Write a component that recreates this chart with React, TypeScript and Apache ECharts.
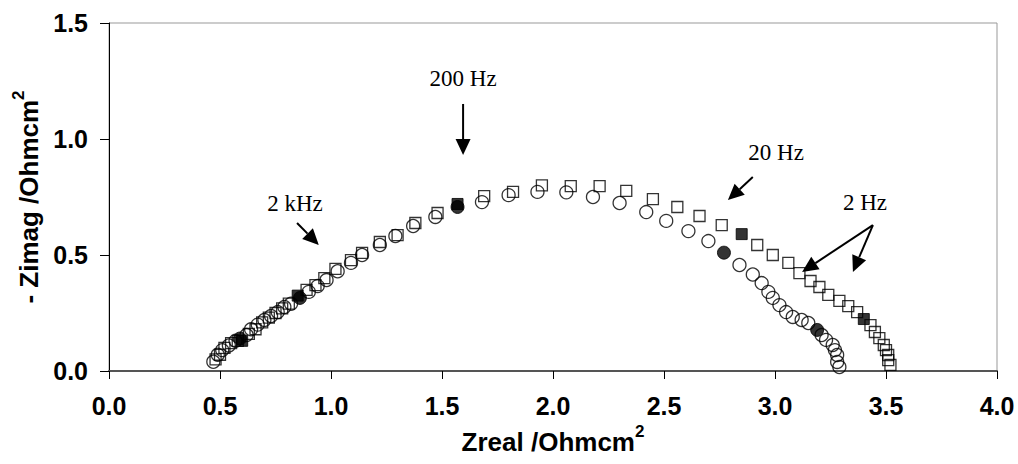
import React, { useEffect, useRef } from "react";
import * as echarts from "echarts";

// Open circles (first data set)
const circleOpen: number[][] = [
  [0.47, 0.04], [0.49, 0.07], [0.51, 0.09], [0.54, 0.11], [0.57, 0.13], [0.62, 0.155],
  [0.64, 0.18], [0.67, 0.2], [0.7, 0.22], [0.73, 0.237], [0.76, 0.254], [0.79, 0.276],
  [0.82, 0.29], [0.9, 0.341], [0.94, 0.366], [0.98, 0.392], [1.03, 0.43], [1.09, 0.466],
  [1.14, 0.5], [1.22, 0.543], [1.29, 0.582], [1.37, 0.625], [1.47, 0.664], [1.68, 0.728],
  [1.8, 0.758], [1.93, 0.772], [2.06, 0.77], [2.18, 0.75], [2.3, 0.724], [2.42, 0.685],
  [2.51, 0.647], [2.61, 0.603], [2.7, 0.56], [2.84, 0.457], [2.9, 0.416], [2.94, 0.379],
  [2.97, 0.341], [2.99, 0.315], [3.02, 0.284], [3.05, 0.254], [3.08, 0.233], [3.12, 0.22],
  [3.15, 0.207], [3.21, 0.155], [3.23, 0.134], [3.26, 0.112], [3.27, 0.09], [3.28, 0.069],
  [3.28, 0.039], [3.29, 0.017],
];
// Filled circles (20 kHz, 2 kHz, 200 Hz, 20 Hz, 2 Hz)
const circleFilled: number[][] = [
  [0.59, 0.14], [0.86, 0.315], [1.57, 0.707], [2.77, 0.51], [3.19, 0.177],
];
// Open squares (second data set)
const squareOpen: number[][] = [
  [0.48, 0.05], [0.5, 0.07], [0.52, 0.1], [0.55, 0.12], [0.58, 0.13], [0.63, 0.16],
  [0.66, 0.18], [0.69, 0.21], [0.72, 0.23], [0.75, 0.25], [0.78, 0.27], [0.81, 0.29],
  [0.89, 0.35], [0.93, 0.37], [0.97, 0.4], [1.02, 0.44], [1.09, 0.478], [1.14, 0.509],
  [1.22, 0.556], [1.3, 0.586], [1.38, 0.638], [1.48, 0.681], [1.69, 0.754], [1.82, 0.772],
  [1.95, 0.8], [2.08, 0.797], [2.21, 0.797], [2.33, 0.776], [2.45, 0.741], [2.56, 0.707],
  [2.66, 0.668], [2.76, 0.629], [2.92, 0.543], [2.99, 0.5], [3.06, 0.466], [3.11, 0.422],
  [3.16, 0.388], [3.2, 0.362], [3.24, 0.328], [3.29, 0.302], [3.33, 0.28], [3.37, 0.254],
  [3.43, 0.198], [3.45, 0.168], [3.47, 0.142], [3.49, 0.112], [3.5, 0.09], [3.51, 0.069],
  [3.51, 0.047], [3.52, 0.026],
];
const squareFilled: number[][] = [
  [0.6, 0.13], [0.85, 0.325], [1.57, 0.72], [2.85, 0.59], [3.4, 0.224],
];

// Annotations in data coordinates: label position, arrows [from, to]
const annotations = [
  { text: "2 kHz", at: [0.838, 0.724], arrows: [[[0.847, 0.638], [0.945, 0.543]]] },
  { text: "200 Hz", at: [1.595, 1.262], arrows: [[[1.595, 1.151], [1.595, 0.931]]] },
  { text: "20 Hz", at: [3.005, 0.94], arrows: [[[2.9, 0.836], [2.788, 0.737]]] },
  {
    text: "2 Hz",
    at: [3.405, 0.728],
    arrows: [
      [[3.441, 0.629], [3.122, 0.427]],
      [[3.441, 0.629], [3.351, 0.427]],
    ],
  },
];

const xTicks = { min: 0, max: 4, interval: 0.5 };
const yTicks = { min: 0, max: 1.5, interval: 0.5 };

export default function App() {
  const ref = useRef<HTMLDivElement>(null);
  useEffect(() => {
    if (!ref.current) return;
    const chart = echarts.init(ref.current, undefined, { renderer: "svg" });
    const tickFont = {
      fontFamily: "Liberation Sans, Arial, sans-serif",
      fontWeight: "bold" as const,
      fontSize: 25,
      color: "#000",
    };
    const titleRich = {
      a: { fontFamily: "Liberation Sans, Arial", fontWeight: "bold", fontSize: 26, color: "#000", lineHeight: 32, verticalAlign: "bottom" },
      s: { fontFamily: "Liberation Sans, Arial", fontWeight: "bold", fontSize: 17, color: "#000", lineHeight: 32, verticalAlign: "top" },
    };
    const openStyle = { color: "rgba(0,0,0,0)", borderColor: "#000", borderWidth: 1.3 };
    const fillStyle = { color: "#000", borderColor: "#000", borderWidth: 1 };
    chart.setOption({
      animation: false,
      backgroundColor: "#fff",
      grid: {
        left: 109, right: 21, top: 23, bottom: 93,
        show: true, borderColor: "#999", borderWidth: 1, backgroundColor: "transparent",
      },
      xAxis: {
        type: "value",
        ...xTicks,
        splitLine: { show: false },
        axisLine: { show: true, lineStyle: { color: "#555", width: 2 } },
        axisTick: { show: true, length: 8, lineStyle: { color: "#000", width: 1 } },
        axisLabel: { ...tickFont, margin: 22, formatter: (v: number) => v.toFixed(1) },
        name: "{a|Zreal /Ohmcm}{s|2}",
        nameLocation: "middle",
        nameGap: 52,
        nameTextStyle: { rich: titleRich },
      },
      yAxis: {
        type: "value",
        ...yTicks,
        splitLine: { show: false },
        axisLine: { show: true, lineStyle: { color: "#000", width: 1 } },
        axisTick: { show: true, length: 9, lineStyle: { color: "#000", width: 1 } },
        axisLabel: { ...tickFont, margin: 21, formatter: (v: number) => v.toFixed(1) },
        name: "{a|- Zimag /Ohmcm}{s|2}",
        nameLocation: "middle",
        nameRotate: 90,
        nameGap: 60,
        nameTextStyle: { rich: titleRich },
      },
      series: [
        { type: "scatter", symbol: "circle", symbolSize: 13, data: circleOpen, itemStyle: openStyle, z: 3 },
        { type: "scatter", symbol: "rect", symbolSize: 11, data: squareOpen, itemStyle: openStyle, z: 3 },
        { type: "scatter", symbol: "circle", symbolSize: 13, data: circleFilled, itemStyle: fillStyle, z: 4 },
        { type: "scatter", symbol: "rect", symbolSize: 11, data: squareFilled, itemStyle: fillStyle, z: 4 },
      ],
    });

    const px = (p: number[]) => chart.convertToPixel({ gridIndex: 0 }, p) as number[];
    const graphics: any[] = [];
    const headLen = 16;
    const headW = 15;
    annotations.forEach((a) => {
      const t = px(a.at);
      graphics.push({
        type: "text",
        x: t[0],
        y: t[1],
        style: {
          text: a.text,
          fontFamily: "Liberation Serif, Times New Roman, serif",
          fontSize: 23,
          fill: "#000",
          align: "center",
          verticalAlign: "middle",
        },
        z: 10,
      });
      a.arrows.forEach((ar) => {
        const p1 = px(ar[0]);
        const p2 = px(ar[1]);
        const dx = p2[0] - p1[0];
        const dy = p2[1] - p1[1];
        const len = Math.sqrt(dx * dx + dy * dy);
        const ux = dx / len;
        const uy = dy / len;
        const bx = p2[0] - ux * headLen;
        const by = p2[1] - uy * headLen;
        const nx = -uy;
        const ny = ux;
        graphics.push({
          type: "line",
          shape: { x1: p1[0], y1: p1[1], x2: bx, y2: by },
          style: { stroke: "#000", lineWidth: 2 },
          z: 10,
        });
        graphics.push({
          type: "polygon",
          shape: {
            points: [
              [p2[0], p2[1]],
              [bx + (nx * headW) / 2, by + (ny * headW) / 2],
              [bx - (nx * headW) / 2, by - (ny * headW) / 2],
            ],
          },
          style: { fill: "#000" },
          z: 10,
        });
      });
    });
    chart.setOption({ graphic: graphics });

    return () => chart.dispose();
  }, []);
  return (
    <div
      ref={ref}
      style={{ position: "fixed", left: 0, top: 0, width: 1018, height: 464, background: "#fff" }}
    />
  );
}
